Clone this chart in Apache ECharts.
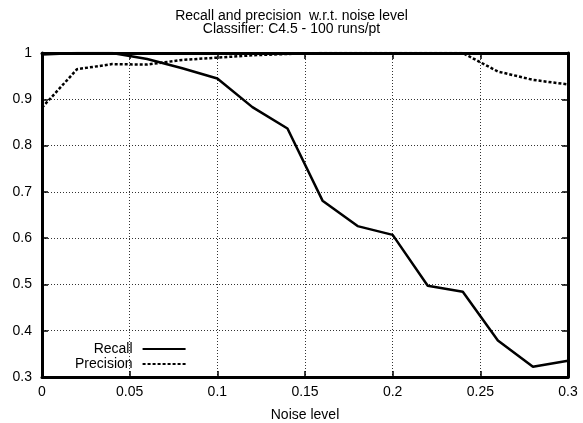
<!DOCTYPE html>
<html><head><meta charset="utf-8">
<script src="https://cdn.jsdelivr.net/npm/echarts@6/dist/echarts.min.js"></script>
<style>html,body{margin:0;padding:0;background:#fff}#c{width:583px;height:423px}</style>
</head><body><div id="c"></div>
<script>
const noise = [0, 0.02, 0.04, 0.06, 0.08, 0.10, 0.12, 0.14, 0.16, 0.18, 0.20, 0.22, 0.24, 0.26, 0.28, 0.30];
const recall = [0.997, 1.0, 1.0, 0.987, 0.967, 0.945, 0.883, 0.837, 0.681, 0.626, 0.607, 0.497, 0.484, 0.379, 0.322, 0.335];
const precision = [0.882, 0.965, 0.976, 0.975, 0.985, 0.99, 0.995, 0.998, 1.0, 1.0, 1.0, 1.0, 1.0, 0.96, 0.942, 0.932];
const xTicks = ['0', '0.05', '0.1', '0.15', '0.2', '0.25', '0.3'];
const yTicks = ['0.3', '0.4', '0.5', '0.6', '0.7', '0.8', '0.9', '1'];
const titleLines = ['Recall and precision  w.r.t. noise level', 'Classifier: C4.5 - 100 runs/pt'];
const xName = 'Noise level';

const font = 'Liberation Sans, Arial, sans-serif';
const chart = echarts.init(document.getElementById('c'), null, {renderer: 'canvas'});
const fmtX = v => { const s = xTicks.find(t => Math.abs(parseFloat(t) - v) < 1e-9); return s === undefined ? '' : s; };
const fmtY = v => { const s = yTicks.find(t => Math.abs(parseFloat(t) - v) < 1e-9); return s === undefined ? '' : s; };
const tickStyle = {show: true, inside: true, length: 6, lineStyle: {color: '#000', width: 1.5}};
const axLine = {show: true, onZero: false, lineStyle: {color: '#000', width: 3}};
chart.setOption({
  animation: false,
  backgroundColor: '#fff',
  title: {
    text: titleLines.join('\n'), left: 'center', top: 5,
    textStyle: {fontFamily: font, fontSize: 14, fontWeight: 'normal', color: '#000', lineHeight: 13}
  },
  legend: {
    orient: 'vertical', left: 70, top: 337, align: 'right',
    itemWidth: 43, itemHeight: 14, itemGap: 1,
    itemStyle: {opacity: 0},
    textStyle: {fontFamily: font, fontSize: 14, color: '#000', width: 62, align: 'right', padding: [0, 5, 0, 0]},
    data: ['Recall', 'Precision']
  },
  grid: {left: 42, right: 15, top: 53, bottom: 46, containLabel: false, outerBoundsMode: 'none'},
  xAxis: [{
    type: 'value', min: 0, max: 0.3, interval: 0.05,
    name: xName, nameLocation: 'middle', nameGap: 31,
    nameTextStyle: {fontFamily: font, fontSize: 14, color: '#000'},
    axisLine: axLine,
    axisTick: tickStyle,
    axisLabel: {fontFamily: font, fontSize: 14, color: '#000', margin: 8, formatter: fmtX},
    splitLine: {show: true, lineStyle: {color: '#333', type: [1, 2], width: 1}}
  }, {
    type: 'value', position: 'top', min: 0, max: 0.3, interval: 0.05,
    axisLine: axLine,
    axisTick: tickStyle, axisLabel: {show: false}, splitLine: {show: false}
  }],
  yAxis: [{
    type: 'value', min: 0.3, max: 1, interval: 0.1,
    axisLine: axLine,
    axisTick: tickStyle,
    axisLabel: {fontFamily: font, fontSize: 14, color: '#000', margin: 10, formatter: fmtY},
    splitLine: {show: true, lineStyle: {color: '#333', type: [1, 2], width: 1}}
  }, {
    type: 'value', position: 'right', min: 0.3, max: 1, interval: 0.1,
    axisLine: axLine,
    axisTick: tickStyle, axisLabel: {show: false}, splitLine: {show: false}
  }],
  series: [
    {name: 'Recall', type: 'line', showSymbol: false, symbol: 'none',
     data: noise.map((x, i) => [x, recall[i]]),
     lineStyle: {color: '#000', width: 2.5}, itemStyle: {color: '#000'}},
    {name: 'Precision', type: 'line', showSymbol: false, symbol: 'none',
     data: noise.map((x, i) => [x, precision[i]]),
     lineStyle: {color: '#000', width: 2.5, type: [3, 2]}, itemStyle: {color: '#000'}}
  ]
});
</script></body></html>
